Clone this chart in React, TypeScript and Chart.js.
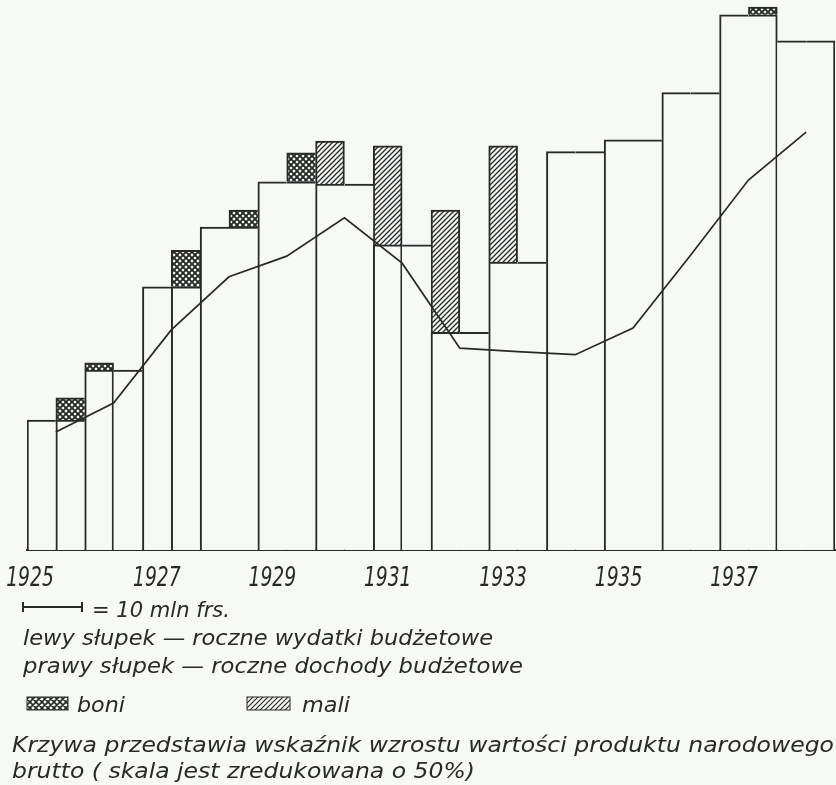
import React, { useEffect, useRef } from 'react';
import { Chart, registerables } from 'chart.js';

Chart.register(...registerables);

// ---------------- data (mln frs.) ----------------
const years = [1925, 1926, 1927, 1928, 1929, 1930, 1931, 1932, 1933, 1934, 1935, 1936, 1937, 1938];
// left bar: yearly budget expenditure
const expenditure = [22.0, 31.7, 44.6, 54.7, 62.4, 69.3, 68.5, 57.6, 68.5, 67.5, 69.5, 77.5, 90.7, 86.3];
// right bar: yearly budget revenue
const revenue = [25.8, 30.5, 50.8, 57.6, 67.3, 62.0, 51.7, 36.9, 48.8, 67.5, 69.5, 77.5, 92.0, 86.3];
// how the difference is marked on the chart
const balanceMark = ['boni', 'boni', 'boni', 'boni', 'boni', 'mali', 'mali', 'mali', 'mali', '', '', '', 'boni', ''];
// GNP growth index curve (scale reduced by 50%)
const gnpIndex = [20.0, 24.9, 37.3, 46.3, 49.8, 56.3, 48.6, 34.2, 33.6, 33.1, 37.6, 50.0, 62.7, 70.8];
// year tick labels
const tickYears = [1925, 1927, 1929, 1931, 1933, 1935, 1937];

// ---------------- style ----------------
const dividerDrawn = [true, true, true, false, false, false, true, false, false, false, false, false, false, false];
const INK = '#272b28';
const BG = '#f6faf7';
const Y_MAX = 93.2;
const FONT = '"DejaVu Sans", sans-serif';

function makePattern(kind: string) {
  const c = document.createElement('canvas');
  const s = kind === 'boni' ? 6 : 5;
  c.width = s;
  c.height = s;
  const g = c.getContext('2d')!;
  g.fillStyle = BG;
  g.fillRect(0, 0, s, s);
  g.strokeStyle = INK;
  g.lineWidth = kind === 'boni' ? 1.9 : 1.3;
  g.beginPath();
  for (const d of [-s, 0, s]) {
    g.moveTo(d - 1, s + 1);
    g.lineTo(d + s + 1, -1);
    if (kind === 'boni') {
      g.moveTo(d - 1, -1);
      g.lineTo(d + s + 1, s + 1);
    }
  }
  g.stroke();
  return g.createPattern(c, 'repeat')!;
}

const yearLabelPlugin = {
  id: 'yearLabels',
  afterDraw(chart: any) {
    const scale = chart.scales.x;
    const ctx = chart.ctx;
    ctx.save();
    ctx.fillStyle = INK;
    ctx.font = 'italic 26px ' + FONT;
    ctx.textAlign = 'center';
    ctx.textBaseline = 'alphabetic';
    scale.ticks.forEach((t: any, i: number) => {
      if (!t.label) return;
      // first label sits on the axis start, the others under their half-bar
      const x = i === 0 ? scale.left + 3 : scale.getPixelForTick(i);
      ctx.save();
      ctx.translate(x, chart.chartArea.bottom + 36);
      ctx.scale(0.72, 1);
      ctx.fillText(String(t.label), 0, 0);
      ctx.restore();
    });
    ctx.restore();
  },
};

export default function App() {
  const ref = useRef<HTMLCanvasElement | null>(null);

  useEffect(() => {
    if (!ref.current) return;
    const boniP = makePattern('boni');
    const maliP = makePattern('mali');

    const halfLabels = years.flatMap((y) => [`${y}-L`, `${y}-R`]);
    const n = halfLabels.length;
    const yearOf = (i: number) => Math.floor(i / 2);
    const tallSide = (k: number) => (expenditure[k] > revenue[k] ? 0 : revenue[k] > expenditure[k] ? 1 : -1);

    const baseData = halfLabels.map((_, i) => Math.min(expenditure[yearOf(i)], revenue[yearOf(i)]));
    const hatchData = halfLabels.map((_, i) => {
      const k = yearOf(i);
      if (!balanceMark[k] || tallSide(k) !== i % 2) return null;
      return Math.abs(expenditure[k] - revenue[k]);
    });
    const tot = (i: number) => baseData[i] + (hatchData[i] || 0);
    const boundary = (i: number) => (i % 2 === 1 ? true : dividerDrawn[yearOf(i)]); // boundary between i and i+1
    const W = 2;

    const baseBorder = (ctx: any) => {
      const i = ctx.dataIndex;
      if (i === undefined) return W;
      let left = 0;
      let right = 0;
      if (i === 0) left = W;
      else if (boundary(i - 1) && tot(i) >= tot(i - 1)) left = W;
      if (i === n - 1) right = W;
      else if (boundary(i) && tot(i) > tot(i + 1)) right = W;
      return { top: W, left, right, bottom: 0 };
    };
    const hatchBorder = (ctx: any) => {
      const i = ctx.dataIndex;
      if (i === undefined) return W;
      const h = i % 2;
      let left = W;
      let right = W;
      if (h === 0 && i > 0 && tot(i) < tot(i - 1)) left = 0;
      if (h === 1 && i < n - 1 && tot(i) <= tot(i + 1)) right = 0;
      return { top: W, left, right, bottom: 0 };
    };

    const chart = new Chart(ref.current, {
      type: 'bar',
      data: {
        labels: halfLabels,
        datasets: [
          {
            type: 'bar',
            label: 'base',
            data: baseData,
            backgroundColor: BG,
            borderColor: INK,
            borderWidth: baseBorder as any,
            borderSkipped: false,
            barPercentage: 1,
            categoryPercentage: 1,
            grouped: false,
            stack: 'budget',
            xAxisID: 'x',
            yAxisID: 'y',
            order: 1,
          },
          {
            type: 'bar',
            label: 'hatch',
            data: hatchData as any,
            backgroundColor: (ctx: any) => (balanceMark[yearOf(ctx.dataIndex ?? 0)] === 'mali' ? maliP : boniP),
            borderColor: INK,
            borderWidth: hatchBorder as any,
            borderSkipped: false,
            barPercentage: 1,
            categoryPercentage: 1,
            grouped: false,
            stack: 'budget',
            xAxisID: 'x',
            yAxisID: 'y',
            order: 1,
          },
          {
            type: 'line',
            label: 'gnp',
            data: gnpIndex,
            borderColor: INK,
            borderWidth: 1.7,
            pointRadius: 0,
            tension: 0,
            fill: false,
            xAxisID: 'xYear',
            yAxisID: 'yIdx',
            order: 0,
          } as any,
        ],
      },
      options: {
        responsive: false,
        animation: false,
        events: [],
        layout: { padding: { left: 27, right: 1, top: 0, bottom: 0 } },
        plugins: { legend: { display: false }, tooltip: { enabled: false } },
        scales: {
          x: {
            type: 'category',
            offset: true,
            stacked: true,
            z: 1,
            grid: { display: false, drawTicks: false },
            border: { display: true, color: INK, width: 2 },
            ticks: {
              display: false,
              autoSkip: false,
              callback: (_v: any, i: number) => {
                const k = Math.floor(i / 2);
                return i % 2 === 0 && tickYears.includes(years[k]) ? String(years[k]) : '';
              },
            },
            afterFit: (s: any) => {
              s.height = 40;
            },
          },
          xYear: { type: 'category', labels: years.map(String), offset: true, display: false },
          y: { type: 'linear', min: 0, max: Y_MAX, stacked: true, display: false },
          yIdx: { type: 'linear', min: 0, max: Y_MAX, display: false },
        },
      } as any,
      plugins: [yearLabelPlugin],
    });
    return () => chart.destroy();
  }, []);

  const textStyle = { fontFamily: FONT, fontStyle: 'italic', fill: INK } as any;

  return (
    <div style={{ position: 'absolute', left: 0, top: 0, width: 836, height: 785, background: BG, overflow: 'hidden' }}>
      <canvas ref={ref} width={836} height={590} style={{ position: 'absolute', left: 0, top: 0, width: 836, height: 590 }} />
      <svg width={836} height={785} style={{ position: 'absolute', left: 0, top: 0, pointerEvents: 'none' }}>
        <defs>
          <pattern id="boniP" width={6} height={6} patternUnits="userSpaceOnUse">
            <rect width={6} height={6} fill={BG} />
            <path d="M-1,7 L7,-1 M-1,-1 L7,7 M-7,7 L1,-1 M5,7 L13,-1 M-7,-1 L1,7 M5,-1 L13,7" stroke={INK} strokeWidth={1.6} />
          </pattern>
          <pattern id="maliP" width={5} height={5} patternUnits="userSpaceOnUse">
            <rect width={5} height={5} fill={BG} />
            <path d="M-1,6 L6,-1 M-6,6 L1,-1 M4,6 L11,-1" stroke={INK} strokeWidth={1.2} />
          </pattern>
        </defs>
        {/* scale marker */}
        <line x1={23} y1={607} x2={82} y2={607} stroke={INK} strokeWidth={2} />
        <line x1={23} y1={602} x2={23} y2={612} stroke={INK} strokeWidth={2} />
        <line x1={82} y1={602} x2={82} y2={612} stroke={INK} strokeWidth={2} />
        <text x={92} y={617} fontSize={21} textLength={138} lengthAdjust="spacingAndGlyphs" style={textStyle}>= 10 mln frs.</text>
        <text x={23} y={645} fontSize={21} textLength={470} lengthAdjust="spacingAndGlyphs" style={textStyle}>lewy słupek — roczne wydatki budżetowe</text>
        <text x={23} y={673} fontSize={21} textLength={500} lengthAdjust="spacingAndGlyphs" style={textStyle}>prawy słupek — roczne dochody budżetowe</text>
        <rect x={27} y={697} width={41} height={13} fill="url(#boniP)" stroke={INK} strokeWidth={1} />
        <text x={77} y={712} fontSize={21} textLength={48} lengthAdjust="spacingAndGlyphs" style={textStyle}>boni</text>
        <rect x={247} y={697} width={43} height={13} fill="url(#maliP)" stroke={INK} strokeWidth={1} />
        <text x={302} y={712} fontSize={21} textLength={48} lengthAdjust="spacingAndGlyphs" style={textStyle}>mali</text>
        <text x={12} y={752} fontSize={21} textLength={822} lengthAdjust="spacingAndGlyphs" style={textStyle}>Krzywa przedstawia wskaźnik wzrostu wartości produktu narodowego</text>
        <text x={12} y={778} fontSize={21} textLength={463} lengthAdjust="spacingAndGlyphs" style={textStyle}>brutto ( skala jest zredukowana o 50%)</text>
      </svg>
    </div>
  );
}
